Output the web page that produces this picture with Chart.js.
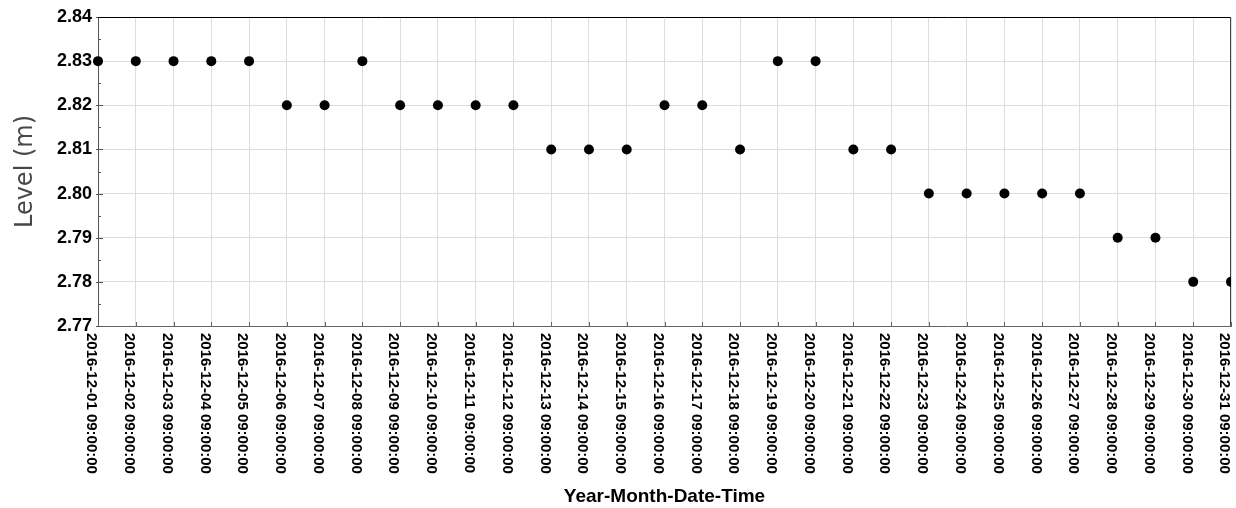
<!DOCTYPE html>
<html>
<head>
<meta charset="utf-8">
<title>Level</title>
<script src="https://cdn.jsdelivr.net/npm/chart.js@4/dist/chart.umd.min.js"></script>
<style>
    html, body { margin: 0; padding: 0; background: #fff; }
    #wrap { width: 1236px; height: 508px; }
</style>
</head>
<body>
<div id="wrap"><canvas id="levelChart"></canvas></div>
<script>
const dateLabels = [
    "2016-12-01 09:00:00", "2016-12-02 09:00:00", "2016-12-03 09:00:00", "2016-12-04 09:00:00",
    "2016-12-05 09:00:00", "2016-12-06 09:00:00", "2016-12-07 09:00:00", "2016-12-08 09:00:00",
    "2016-12-09 09:00:00", "2016-12-10 09:00:00", "2016-12-11 09:00:00", "2016-12-12 09:00:00",
    "2016-12-13 09:00:00", "2016-12-14 09:00:00", "2016-12-15 09:00:00", "2016-12-16 09:00:00",
    "2016-12-17 09:00:00", "2016-12-18 09:00:00", "2016-12-19 09:00:00", "2016-12-20 09:00:00",
    "2016-12-21 09:00:00", "2016-12-22 09:00:00", "2016-12-23 09:00:00", "2016-12-24 09:00:00",
    "2016-12-25 09:00:00", "2016-12-26 09:00:00", "2016-12-27 09:00:00", "2016-12-28 09:00:00",
    "2016-12-29 09:00:00", "2016-12-30 09:00:00", "2016-12-31 09:00:00"
];

const levels = [
    2.83, 2.83, 2.83, 2.83, 2.83, 2.82, 2.82, 2.83, 2.82, 2.82,
    2.82, 2.82, 2.81, 2.81, 2.81, 2.82, 2.82, 2.81, 2.83, 2.83,
    2.81, 2.81, 2.80, 2.80, 2.80, 2.80, 2.80, 2.79, 2.79, 2.78,
    2.78
];

const yMin = 2.77;
const yMax = 2.84;
const yStep = 0.01;

// ticks point inward, x labels read top to bottom, top/right frame
const framePlugin = {
    id: "frame",
    beforeDatasetsDraw(chart) {
        const ctx = chart.ctx;
        const area = chart.chartArea;
        const x = chart.scales.x;
        const y = chart.scales.y;
        ctx.save();
        ctx.lineWidth = 1;

        ctx.strokeStyle = "#555";
        y.ticks.forEach(t => {
            const py = Math.round(y.getPixelForValue(t.value)) + 0.5;
            ctx.beginPath();
            ctx.moveTo(area.left - 2, py);
            ctx.lineTo(area.left + 5, py);
            ctx.stroke();
            const mid = t.value + yStep / 2;
            if (mid < yMax) {
                const my = Math.round(y.getPixelForValue(mid)) + 0.5;
                ctx.beginPath();
                ctx.moveTo(area.left, my);
                ctx.lineTo(area.left + 3, my);
                ctx.stroke();
            }
        });

        ctx.strokeStyle = "#666";
        dateLabels.forEach((lab, i) => {
            const px = Math.round(x.getPixelForTick(i)) + 0.5;
            ctx.beginPath();
            ctx.moveTo(px, area.bottom);
            ctx.lineTo(px, area.bottom - 4);
            ctx.stroke();
        });

        ctx.strokeStyle = "#000";
        ctx.beginPath();
        ctx.moveTo(area.left, area.top + 0.5);
        ctx.lineTo(area.right, area.top + 0.5);
        ctx.stroke();
        ctx.strokeStyle = "#444";
        ctx.beginPath();
        ctx.moveTo(area.right - 0.5, area.top);
        ctx.lineTo(area.right - 0.5, area.bottom);
        ctx.stroke();
        ctx.restore();
    },
    afterDraw(chart) {
        const ctx = chart.ctx;
        const area = chart.chartArea;
        const x = chart.scales.x;
        ctx.save();
        ctx.fillStyle = "#000";
        ctx.font = "bold 15px 'Liberation Sans', Arial, sans-serif";
        ctx.textAlign = "left";
        ctx.textBaseline = "top";
        dateLabels.forEach((lab, i) => {
            ctx.save();
            ctx.translate(x.getPixelForTick(i) + 1, area.bottom + 7);
            ctx.rotate(Math.PI / 2);
            ctx.fillText(lab, 0, 0);
            ctx.restore();
        });
        ctx.restore();
    }
};

new Chart(document.getElementById("levelChart"), {
    type: "line",
    data: {
        labels: dateLabels,
        datasets: [{
            data: levels,
            showLine: false,
            pointRadius: 5,
            pointHoverRadius: 5,
            pointBackgroundColor: "#000",
            pointBorderWidth: 0,
            clip: { left: false, top: false, right: 0, bottom: false }
        }]
    },
    options: {
        responsive: true,
        maintainAspectRatio: false,
        animation: false,
        events: [],
        layout: { padding: { top: 17, right: 3, left: 0, bottom: 0 } },
        plugins: {
            legend: { display: false },
            tooltip: { enabled: false }
        },
        scales: {
            x: {
                offset: false,
                afterFit(scale) { scale.height = 182; },
                grid: { color: "#dddddd", drawTicks: false },
                border: { color: "#666" },
                ticks: { display: false, autoSkip: false },
                title: {
                    display: true,
                    text: "Year-Month-Date-Time",
                    color: "#000",
                    font: { family: "'Liberation Sans', Arial, sans-serif", size: 19, weight: "bold" },
                    padding: { top: 1, bottom: 0 }
                }
            },
            y: {
                min: yMin,
                max: yMax,
                afterFit(scale) { scale.width = 98; },
                grid: { color: "#dddddd", drawTicks: false },
                border: { color: "#555" },
                ticks: {
                    stepSize: yStep,
                    padding: 6,
                    color: "#000",
                    font: { family: "'Liberation Sans', Arial, sans-serif", size: 18, weight: "bold" },
                    callback: v => v.toFixed(2)
                },
                title: {
                    display: true,
                    text: "Level (m)",
                    color: "#484848",
                    font: { family: "'DejaVu Sans', sans-serif", size: 24 },
                    padding: { top: 11, bottom: 0 }
                }
            }
        }
    },
    plugins: [framePlugin]
});
</script>
</body>
</html>
